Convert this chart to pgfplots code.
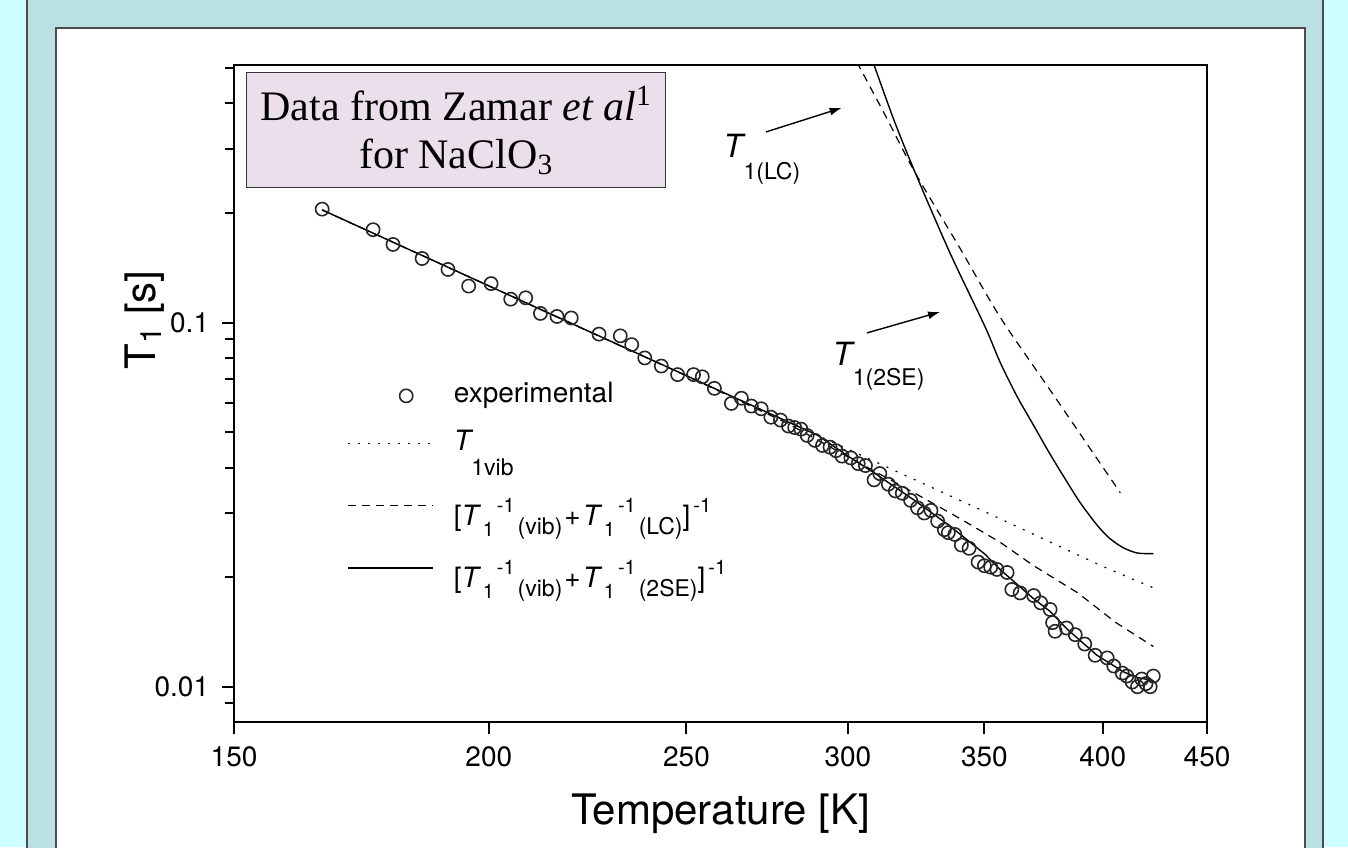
\documentclass[border=0pt]{standalone}
\usepackage{fontspec}
\setmainfont{TeX Gyre Heros}
\newfontfamily\timesfont{Liberation Serif}
\usepackage{pgfplots}
\pgfplotsset{compat=1.18}
\usetikzlibrary{arrows.meta}

\definecolor{brightcyan}{RGB}{204,255,255}
\definecolor{greycyan}{RGB}{186,224,227}
\definecolor{boxpink}{RGB}{236,223,236}

% raised / lowered pieces for the legend formulas
\newcommand{\lone}{\kern0.8pt\raisebox{-5.5pt}{\fontsize{10}{10}\selectfont 1}}
\newcommand{\lsup}[1]{\kern1.5pt\raisebox{6.5pt}{\fontsize{10}{10}\selectfont #1}}
\newcommand{\lsub}[1]{\kern1.5pt\raisebox{-4.5pt}{\fontsize{11.5}{11.5}\selectfont #1}}
\newcommand{\Tinv}[1]{\textit{T}\lone\lsup{-1}\lsub{#1}}

\pgfplotsset{
  markleg/.style={legend image code/.code={\draw[mark repeat=2,mark phase=2,##1]
    plot coordinates {(0pt,0pt) (29pt,0pt) (42.5pt,0pt)};}},
}

\pgfplotstableread{
T     t1
165.7 0.205
175.5 0.180
179.5 0.164
185.5 0.150
191   0.140
195.5 0.126
200.5 0.128
205   0.116
208.5 0.117
212   0.106
216   0.104
219.5 0.103
226.5 0.093
232   0.092
235   0.087
238.5 0.080
243   0.076
247.5 0.072
252   0.072
254.5 0.071
258   0.066
263   0.060
266   0.062
269   0.059
272   0.058
275   0.055
278   0.054
280.5 0.052
282.5 0.0515
284.5 0.051
286.5 0.049
289   0.0475
291.5 0.046
294   0.0455
296   0.0445
298   0.043
301   0.0425
303.5 0.041
306   0.0405
309   0.037
311   0.0385
314   0.036
316.5 0.0345
319   0.034
322   0.0325
324.5 0.031
327   0.030
329.5 0.0305
332   0.0285
334.5 0.027
336   0.0265
338.5 0.0262
341   0.0245
344   0.024
347.5 0.022
350   0.0215
352.5 0.0213
355   0.021
359.1 0.0206
361   0.0185
364.4 0.0181
370   0.0178
373   0.0170
377   0.0163
378   0.0150
379.1 0.0142
384   0.0145
387.8 0.0139
392   0.0131
396.6 0.0122
402   0.0120
405   0.0114
408.9 0.0109
411   0.0107
413.5 0.0103
416   0.0100
418   0.0105
420   0.0102
422   0.0100
423.5 0.0107
}\expdata

\begin{document}
\begin{tikzpicture}
\path[use as bounding box] (0,0) rectangle (674pt,-423.5pt);
\begin{scope}[x=0.5pt,y=-0.5pt]
  \fill[brightcyan] (0,0) rectangle (1348,847);
  \fill[greycyan] (27,-2) rectangle (1323,849);
  \draw[black!70, line width=0.6pt] (27,-2) -- (27,849) (1323,-2) -- (1323,849);
  \filldraw[fill=white, draw=black!70, line width=0.6pt] (56,28) rectangle (1305,860);
\end{scope}
\begin{axis}[
  at={(117pt,-361pt)}, anchor=south west,
  scale only axis, width=486.5pt, height=328.5pt,
  xmode=log, ymode=log,
  xmin=150, xmax=450, ymin=0.008, ymax=0.51,
  xtick={150,200,250,300,350,400,450},
  xticklabels={150,200,250,300,350,400,450},
  minor xtick={},
  ytick={0.01,0.1},
  yticklabels={0.01,0.1},
  minor ytick={0.009,0.02,0.03,0.04,0.05,0.06,0.07,0.08,0.09,0.2,0.3,0.4,0.5},
  tick pos=left, tick align=outside,
  major tick length=6pt, minor tick length=4.5pt,
  every tick/.style={black, line width=1pt},
  axis line style={line width=1.1pt},
  tick label style={font=\fontsize{14}{14}\selectfont},
  xticklabel style={yshift=-3pt},
  yticklabel style={xshift=-3pt},
  xlabel={Temperature [K]},
  ylabel={T\textsubscript{1} [s]},
  label style={font=\fontsize{21}{21}\selectfont},
  xlabel style={yshift=-6.5pt},
  ylabel style={at={(rel axis cs:-0.092,0.612)}, anchor=center},
  legend style={at={(rel axis cs:0.110,0.529)}, anchor=north west,
    draw=none, fill=none, font=\fontsize{14}{16}\selectfont,
    nodes={text depth=}, row sep=0pt,
    /tikz/every odd column/.append style={column sep=8pt}},
  legend cell align=left,
  legend image code/.code={\draw[#1] (0pt,0pt) -- (42.5pt,0pt);},
]
\addplot[only marks, mark=o, mark size=3.3pt,
  mark options={line width=0.8pt, draw=black!85}, markleg]
  table[x=T, y=t1] {\expdata};
\addlegendentry{\raisebox{0pt}[10pt][3pt]{experimental}}

\addplot[black, line width=0.6pt, dash pattern=on 1pt off 4pt] coordinates {
  (165.7,0.204) (200,0.1262) (250,0.0715) (300,0.0449) (350,0.0303) (400,0.0214) (423.5,0.0187)
};
\addlegendentry{\raisebox{0pt}[17pt][10pt]{\textit{T}\kern-1pt\raisebox{-12.5pt}{\fontsize{11.5}{11.5}\selectfont 1vib}}}

\addplot[black, line width=0.6pt, dash pattern=on 4pt off 3pt] coordinates {
  (165.7,0.204) (200,0.1262) (250,0.0714) (280,0.0530) (300,0.0428) (320,0.0352)
  (340,0.0291) (356,0.0250) (370,0.0215) (389,0.0181) (406,0.0150) (423.5,0.0129)
};
\addlegendentry{\raisebox{0pt}[23.5pt][3.5pt]{[\Tinv{(vib)}\kern1pt+\kern1pt\Tinv{(LC)}]\lsup{-1}}}

\addplot[black, line width=0.7pt] coordinates {
  (165.7,0.204) (200,0.1262) (250,0.0715) (290,0.0490) (300,0.0430) (309,0.0387)
  (323.7,0.0324) (336.7,0.0276) (350.3,0.0231) (356.2,0.0210) (369.8,0.0175)
  (377,0.0161) (384.3,0.0144) (397.5,0.0122) (409.3,0.0110) (415.9,0.0106) (423.5,0.0104)
};
\addlegendentry{\raisebox{0pt}[23.5pt][3.5pt]{[\Tinv{(vib)}\kern1pt+\kern1pt\Tinv{(2SE)}]\lsup{-1}}}

% T1(LC) alone
\addplot[black, line width=0.6pt, dash pattern=on 4pt off 3pt, smooth, forget plot] coordinates {
  (303,0.52) (313,0.37) (323.7,0.258) (340.5,0.160) (356.2,0.1037) (377,0.0653) (390,0.0494) (408,0.0341)
};
% T1(2SE) alone
\addplot[black, line width=0.7pt, smooth, forget plot] coordinates {
  (309,0.51) (316,0.36) (323.7,0.258) (336.7,0.155) (350.3,0.0973) (356.2,0.0780) (363,0.063)
  (369.8,0.0525) (377,0.0435) (384.3,0.0365) (390,0.0320) (397.5,0.0278) (403,0.0256)
  (409.3,0.0241) (415.9,0.0233) (423.5,0.0232)
};

\node[anchor=north west, draw=black!80, fill=boxpink, line width=0.6pt,
  minimum width=209.5pt, minimum height=57.5pt, align=center, inner sep=0pt,
  font=\timesfont\fontsize{21}{24}\selectfont]
  at (rel axis cs:0.0123,0.989) {Data from Zamar \textit{et al}\textsuperscript{1}\\for NaClO\textsubscript{3}};

\node[anchor=base west, inner sep=0pt, font=\fontsize{16}{16}\selectfont]
  at (axis cs:260.5,0.2834) {\textit{T}\kern-1pt\raisebox{-11pt}{\fontsize{11.5}{11.5}\selectfont 1(LC)}};
\draw[line width=0.7pt, -{Latex[length=6pt,width=4pt]}] (axis cs:273.5,0.334) -- (axis cs:297.9,0.389);

\node[anchor=base west, inner sep=0pt, font=\fontsize{16}{16}\selectfont]
  at (axis cs:294.7,0.0765) {\textit{T}\kern-1pt\raisebox{-10pt}{\fontsize{11.5}{11.5}\selectfont 1(2SE)}};
\draw[line width=0.7pt, -{Latex[length=6pt,width=4pt]}] (axis cs:306.5,0.0937) -- (axis cs:332.9,0.107);
\end{axis}
\end{tikzpicture}
\end{document}
